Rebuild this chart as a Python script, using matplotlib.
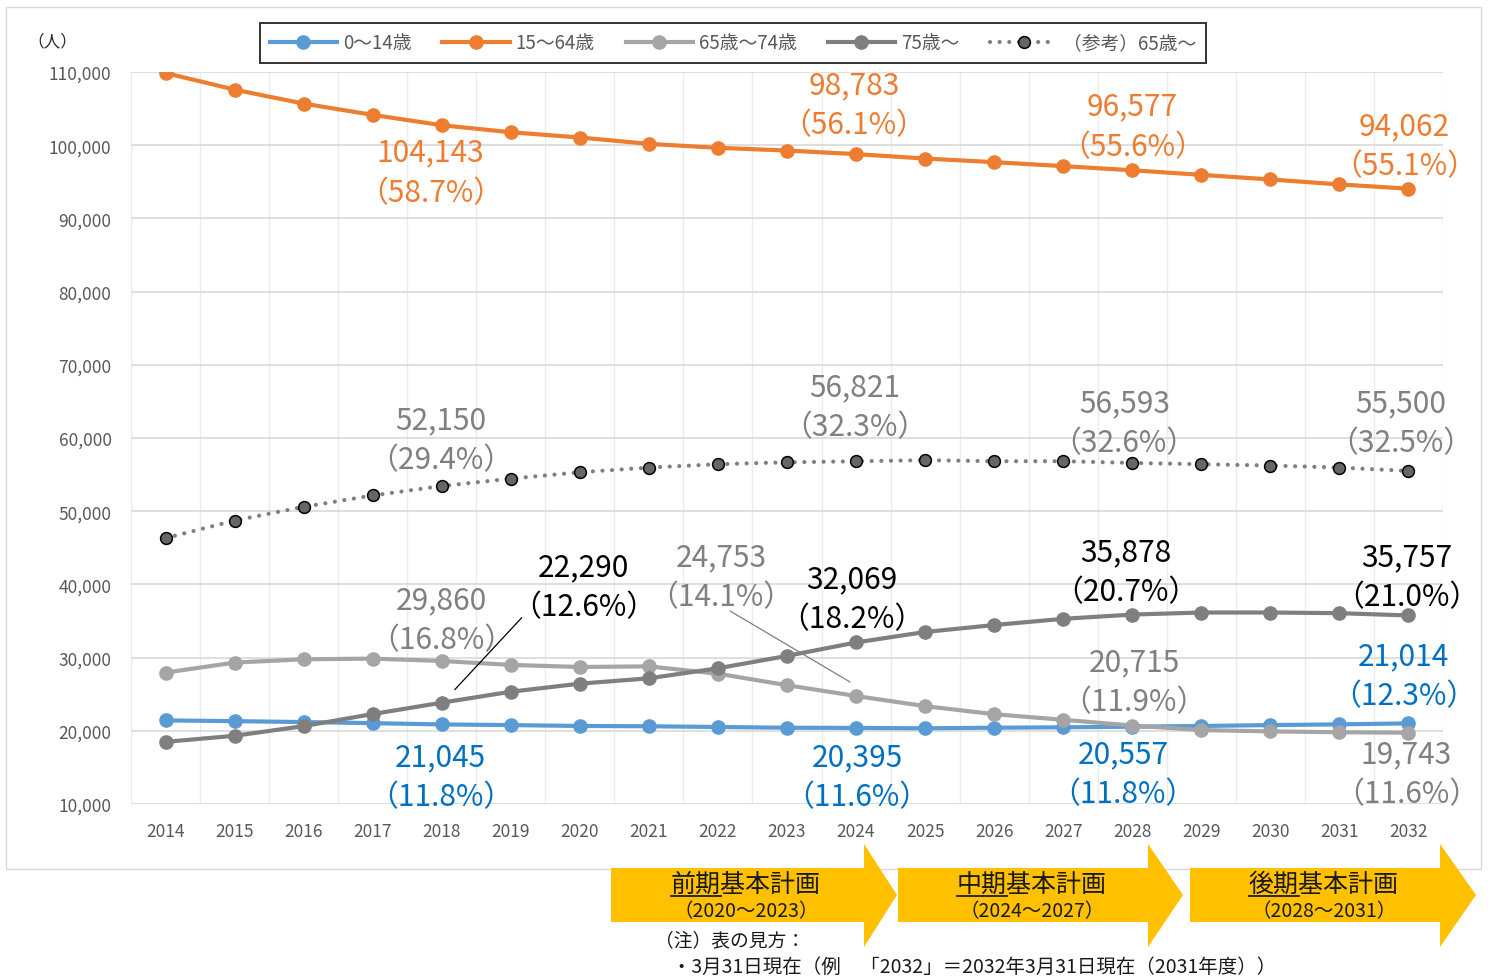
import matplotlib
matplotlib.use('Agg')
import matplotlib.pyplot as plt
from matplotlib.transforms import offset_copy
from matplotlib.patches import Polygon, Rectangle
from matplotlib.lines import Line2D

plt.rcParams['font.family'] = ['Noto Sans CJK JP', 'DejaVu Sans']

# ---------------- data ----------------
years = list(range(2014, 2033))
age_0_14 = [21420, 21320, 21190, 21045, 20870, 20780, 20660, 20620, 20520, 20420,
            20395, 20340, 20420, 20480, 20557, 20660, 20780, 20880, 21014]
age_15_64 = [109860, 107590, 105680, 104143, 102730, 101770, 101050, 100180, 99640, 99270,
             98783, 98180, 97680, 97140, 96577, 95950, 95320, 94640, 94062]
age_65_74 = [27950, 29320, 29770, 29860, 29540, 29000, 28720, 28800, 27800, 26230,
             24753, 23370, 22270, 21500, 20715, 20100, 19920, 19800, 19743]
age_75_over = [18490, 19320, 20640, 22290, 23840, 25340, 26440, 27170, 28540, 30230,
               32069, 33500, 34450, 35300, 35878, 36160, 36160, 36070, 35757]
ref_65_over = [46330, 48720, 50600, 52150, 53440, 54450, 55320, 55960, 56420, 56680,
               56821, 56970, 56830, 56830, 56593, 56420, 56240, 55960, 55500]

series_names = ['0～14歳', '15～64歳', '65歳～74歳', '75歳～', '（参考）65歳～']
y_ticks = list(range(10000, 110001, 10000))

# labels: (series key, year, value text, pct text)
label_items = [
    ('15_64', 2018, '104,143', '（58.7%）'),
    ('15_64', 2024, '98,783', '（56.1%）'),
    ('15_64', 2028, '96,577', '（55.6%）'),
    ('15_64', 2032, '94,062', '（55.1%）'),
    ('ref', 2018, '52,150', '（29.4%）'),
    ('ref', 2024, '56,821', '（32.3%）'),
    ('ref', 2028, '56,593', '（32.6%）'),
    ('ref', 2032, '55,500', '（32.5%）'),
    ('65_74', 2018, '29,860', '（16.8%）'),
    ('65_74', 2024, '24,753', '（14.1%）'),
    ('65_74', 2028, '20,715', '（11.9%）'),
    ('65_74', 2032, '19,743', '（11.6%）'),
    ('75', 2018, '22,290', '（12.6%）'),
    ('75', 2024, '32,069', '（18.2%）'),
    ('75', 2028, '35,878', '（20.7%）'),
    ('75', 2032, '35,757', '（21.0%）'),
    ('0_14', 2018, '21,045', '（11.8%）'),
    ('0_14', 2024, '20,395', '（11.6%）'),
    ('0_14', 2028, '20,557', '（11.8%）'),
    ('0_14', 2032, '21,014', '（12.3%）'),
]

plan_titles = ['前期基本計画', '中期基本計画', '後期基本計画']
plan_ranges = ['（2020～2023）', '（2024～2027）', '（2028～2031）']

# ---------------- figure ----------------
W, H = 1488, 979
fig = plt.figure(figsize=(W / 100, H / 100), dpi=100)


def fx(px):
    return px / W


def fy(py):
    return 1 - py / H


fig.patches.append(Rectangle((fx(6), fy(870)), fx(1481) - fx(6), fy(8) - fy(870),
                             transform=fig.transFigure, fill=False,
                             edgecolor='#D9D9D9', lw=1.0, zorder=0))

ax = fig.add_axes([fx(131), fy(805), fx(1443) - fx(131), fy(73) - fy(805)])
ax.set_xlim(2013.5, 2032.5)
ax.set_ylim(10000, 110000)

ax.set_yticks(y_ticks)
ax.set_yticklabels([f'{v:,}' for v in y_ticks])
ax.set_xticks(years)
ax.set_xticklabels([str(y) for y in years])
ax.set_xticks([y - 0.5 for y in years] + [2032.5], minor=True)
ax.tick_params(axis='both', which='both', length=0)
ax.tick_params(axis='y', pad=14, labelsize=12.5, labelcolor='#595959')
ax.tick_params(axis='x', pad=13, labelsize=12.5, labelcolor='#595959')
ax.yaxis.grid(True, color='#D9D9D9', lw=1.2)
ax.xaxis.grid(True, which='minor', color='#EBEBEB', lw=1.0)
ax.set_axisbelow(True)
for s in ax.spines.values():
    s.set_visible(False)

c_blue, c_orange, c_lgray, c_dgray = '#5B9BD5', '#ED7D31', '#A5A5A5', '#7F7F7F'

l1, = ax.plot(years, age_0_14, color=c_blue, lw=3, marker='o', ms=9.5, label=series_names[0], zorder=3)
l2, = ax.plot(years, age_15_64, color=c_orange, lw=3, marker='o', ms=9.5, label=series_names[1], zorder=3)
l3, = ax.plot(years, age_65_74, color=c_lgray, lw=3, marker='o', ms=9.5, label=series_names[2], zorder=3)
l4, = ax.plot(years, age_75_over, color=c_dgray, lw=3, marker='o', ms=9.5, label=series_names[3], zorder=4)
l5, = ax.plot(years, ref_65_over, color=c_dgray, lw=3.0, linestyle=(0, (0.01, 2.3)),
              dash_capstyle='round', marker='o', ms=8.5, markerfacecolor='#666666',
              markeredgecolor='black', markeredgewidth=1.1, label=series_names[4], zorder=4)

leg = ax.legend(handles=[l1, l2, l3, l4, l5], loc='center',
                bbox_to_anchor=(fx(733), fy(44)), bbox_transform=fig.transFigure,
                ncol=5, frameon=True, fancybox=False, edgecolor='black',
                handlelength=3.6, columnspacing=1.65, handletextpad=0.3,
                borderpad=0.5, fontsize=13.5)
leg.get_frame().set_linewidth(1.4)
for t in leg.get_texts():
    t.set_color('#595959')

# ---------------- data labels ----------------
series_map = {'0_14': age_0_14, '15_64': age_15_64, '65_74': age_65_74,
              '75': age_75_over, 'ref': ref_65_over}
color_map = {'0_14': '#0070C0', '15_64': c_orange, '65_74': '#808080',
             '75': 'black', 'ref': '#808080'}
offsets = {
    ('15_64', 2018): (-11, -47), ('15_64', 2024): (-2, 49),
    ('15_64', 2028): (0, 44), ('15_64', 2032): (-4, 43),
    ('ref', 2018): (-1, 46), ('ref', 2024): (-1, 55),
    ('ref', 2028): (-8, 40), ('ref', 2032): (-8, 48),
    ('65_74', 2018): (0, 41), ('65_74', 2024): (-135, 119),
    ('65_74', 2028): (2, 44), ('65_74', 2032): (-2, -41),
    ('75', 2018): (142, 116), ('75', 2024): (-4, 44),
    ('75', 2028): (-6, 43), ('75', 2032): (-2, 39),
    ('0_14', 2018): (-1, -52), ('0_14', 2024): (1, -49),
    ('0_14', 2028): (-9, -47), ('0_14', 2032): (-5, 48),
}

for key, yr, vtxt, ptxt in label_items:
    i = years.index(yr)
    val = series_map[key][i]
    dx, dy = offsets[(key, yr)]
    for txt, ddy in ((vtxt, 20), (ptxt, -20)):
        ax.annotate(txt, xy=(yr, val), xytext=(dx, dy + ddy), textcoords='offset pixels',
                    ha='center', va='center', fontsize=21.5, color=color_map[key],
                    zorder=6, annotation_clip=False)

# leader lines
def leader(key, yr, p0, p1, color):
    i = years.index(yr)
    val = series_map[key][i]
    tr = offset_copy(ax.transData, fig=fig, x=p0[0], y=p0[1], units='dots')
    ax.annotate('', xy=(yr, val), xycoords=tr,
                xytext=(p1[0] - p0[0], p1[1] - p0[1]), textcoords='offset pixels',
                arrowprops=dict(arrowstyle='-', color=color, lw=0.9, shrinkA=0, shrinkB=0),
                zorder=5)

leader('75', 2018, (13, 13), (80, 85), 'black')
leader('65_74', 2024, (-6, 14), (-126, 85), '#7F7F7F')

# ---------------- unit label ----------------
fig.text(fx(52), fy(42), '（人）', ha='center', va='center', fontsize=12, color='#262626')

# ---------------- plan arrows ----------------
arrow_specs = [(611, 864, 897, 746), (898, 1148, 1183, 1032), (1190, 1440, 1476, 1324)]
for (x0, xh, xt, xc), title, rng in zip(arrow_specs, plan_titles, plan_ranges):
    pts = [(x0, 869), (xh, 869), (xh, 845), (xt, 896), (xh, 948), (xh, 923), (x0, 923)]
    fig.patches.append(Polygon([(fx(px), fy(py)) for px, py in pts], closed=True,
                               transform=fig.transFigure, facecolor='#FFC000',
                               edgecolor='none', zorder=5))
    t = fig.text(fx(xc), fy(885), title, ha='center', va='center', fontsize=18,
                 color='#1a1a1a', zorder=6)
    fig.text(fx(xc), fy(912), rng, ha='center', va='center', fontsize=14,
             color='#1a1a1a', zorder=6)
    fig.canvas.draw()
    bb = t.get_window_extent()
    ux0 = bb.x0
    ux1 = bb.x0 + bb.width * 2 / 6
    uy = bb.y0 + 1
    fig.add_artist(Line2D([ux0 / W, ux1 / W], [uy / H, uy / H], color='#1a1a1a',
                          lw=1.3, transform=fig.transFigure, zorder=7))

fig.text(fx(655), fy(941), '（注）表の見方：', ha='left', va='center', fontsize=13.5, color='#1a1a1a')
fig.text(fx(672), fy(967), '・3月31日現在（例　「2032」＝2032年3月31日現在（2031年度））',
         ha='left', va='center', fontsize=14, color='#1a1a1a')

fig.savefig('out.png', dpi=100)
